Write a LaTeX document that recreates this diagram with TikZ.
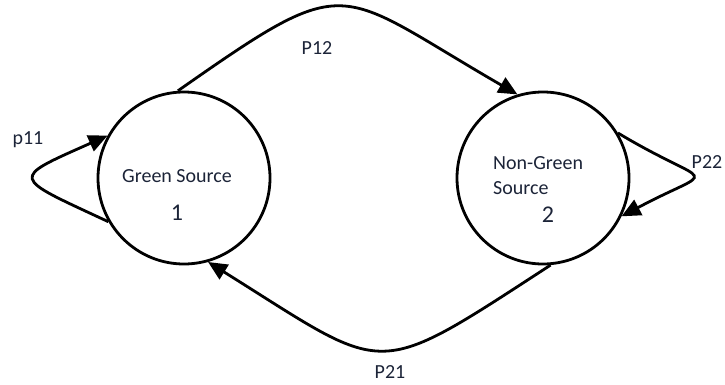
\documentclass[tikz,border=0pt]{standalone}
\usepackage{fontspec}
\setmainfont{Carlito}
\usetikzlibrary{shapes}
\usetikzlibrary{arrows.meta}
\definecolor{txtcol}{RGB}{28,36,56}

\begin{document}
\begin{tikzpicture}[x=1bp,y=1bp]
			\tikzstyle{state}=[circle,draw,line width=2.8bp,minimum size=172bp,inner sep=0pt]
			\tikzstyle{lbl}=[text=txtcol,font=\fontsize{20bp}{23bp}\selectfont,inner sep=0pt]
			\tikzstyle{num}=[text=txtcol,font=\fontsize{24bp}{28bp}\selectfont,inner sep=0pt]
			\tikzstyle{edge}=[line width=2.8bp,-{Triangle[length=19bp,width=17bp]}]
			\useasboundingbox (0,0) rectangle (725,384);

			\node[state] (green) at (184,206) {};
			\node[state] (nongreen) at (543,206) {};
			\node[lbl] (greentxt) at (177,208) {Green Source};
			\node[num] (greennum) at (177,171) {1};
			\node[lbl,anchor=west] (nongreentxt) at (493,221) {Non-Green};
			\node[lbl,anchor=west] (nongreensrc) at (493,196) {Source};
			\node[num] (nongreennum) at (548,169) {2};

			\node[lbl] (p12) at (317,336) {P12};
			\node[lbl] (p21) at (390,12) {P21};
			\node[lbl] (p11) at (28,244) {p11};
			\node[lbl] (p22) at (707,222) {P22};

			\draw[edge] (green.94) to[out=35,in=150,looseness=1.6] (nongreen.107);
			\draw[edge] (nongreen.-85) to[out=213,in=-32,looseness=1.6] (green.-74);
			\draw[edge] (green.210) to[out=155,in=-156,looseness=3.2] (green.151);
			\draw[edge] (nongreen.31.5) to[out=-31,in=28,looseness=3.4] (nongreen.-26.6);
			\end{tikzpicture}
\end{document}
